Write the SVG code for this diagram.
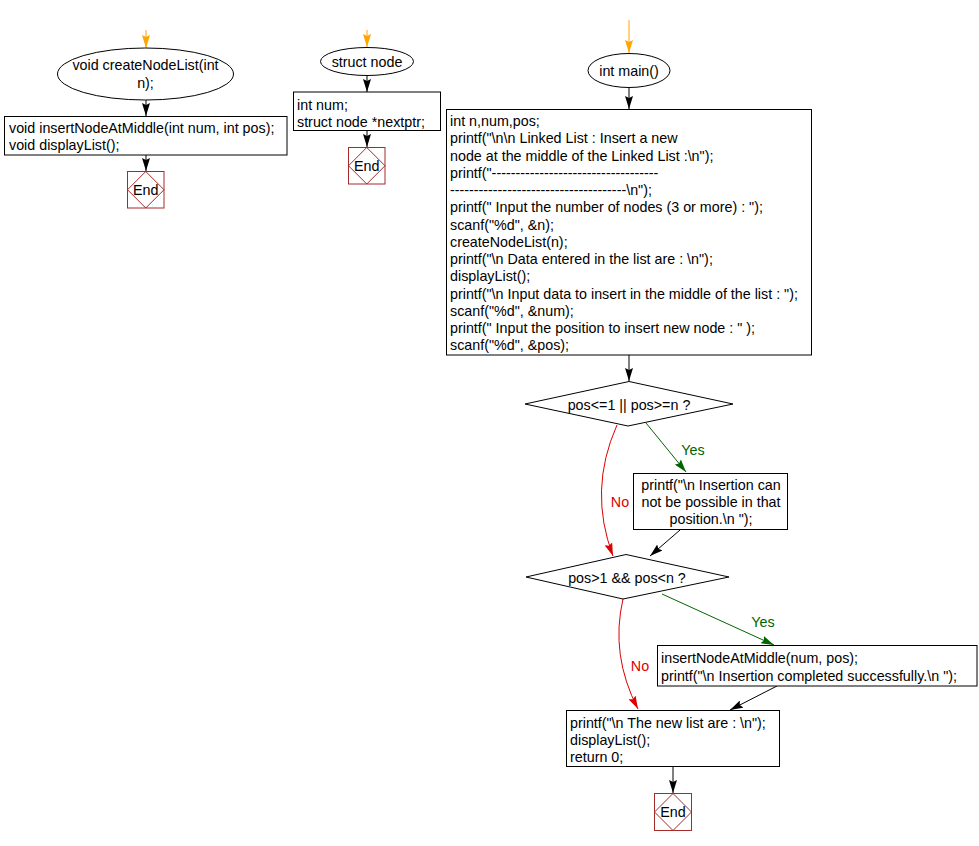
<svg xmlns="http://www.w3.org/2000/svg" width="979" height="846" viewBox="0 0 979 846">
<style>
text{font-family:"Liberation Sans",Arial,sans-serif;font-size:14.3px;fill:#000}
.box{fill:#fff;stroke:#000;stroke-width:1}
.end{fill:#fff;stroke:#a52a2a;stroke-width:1}
.endd{fill:none;stroke:#a52a2a;stroke-width:1}
.c{text-anchor:middle}
.blk{stroke:#000;fill:none;stroke-width:1}
.org{stroke:#ffa500;fill:none;stroke-width:1}
.grn{stroke:#006400;fill:none;stroke-width:1}
.red{stroke:#dd0000;fill:none;stroke-width:1}
.gt{fill:#006400}
.rt{fill:#dd0000}
</style>
<defs>
<marker id="ab" viewBox="0 0 13 8" refX="13" refY="4" markerWidth="13" markerHeight="8" markerUnits="userSpaceOnUse" orient="auto"><path d="M0,0 L13,4 L0,8 L2,4 z" fill="#000"/></marker>
<marker id="ao" viewBox="0 0 13 8" refX="13" refY="4" markerWidth="13" markerHeight="8" markerUnits="userSpaceOnUse" orient="auto"><path d="M0,0 L13,4 L0,8 L2,4 z" fill="#ffa500"/></marker>
<marker id="ag" viewBox="0 0 13 8" refX="13" refY="4" markerWidth="13" markerHeight="8" markerUnits="userSpaceOnUse" orient="auto"><path d="M0,0 L13,4 L0,8 L2,4 z" fill="#006400"/></marker>
<marker id="ar" viewBox="0 0 13 8" refX="13" refY="4" markerWidth="13" markerHeight="8" markerUnits="userSpaceOnUse" orient="auto"><path d="M0,0 L13,4 L0,8 L2,4 z" fill="#dd0000"/></marker>
</defs>

<g id="connectors">
<line class="org" x1="146" y1="30" x2="146" y2="48" marker-end="url(#ao)"/>
<line class="blk" x1="146" y1="100" x2="146" y2="116" marker-end="url(#ab)"/>
<line class="blk" x1="146" y1="155" x2="146" y2="171" marker-end="url(#ab)"/>
<line class="org" x1="367" y1="30" x2="367" y2="47" marker-end="url(#ao)"/>
<line class="blk" x1="367" y1="76" x2="367" y2="92" marker-end="url(#ab)"/>
<line class="blk" x1="367" y1="131" x2="367" y2="147" marker-end="url(#ab)"/>
<line class="org" x1="629" y1="20" x2="629" y2="53" marker-end="url(#ao)"/>
<line class="blk" x1="629" y1="88" x2="629" y2="109" marker-end="url(#ab)"/>
<line class="blk" x1="629" y1="355" x2="629" y2="381" marker-end="url(#ab)"/>
<line class="grn" x1="646" y1="423" x2="686" y2="472" marker-end="url(#ag)"/>
<path class="red" d="M617,425 Q588,490 613,556" marker-end="url(#ar)"/>
<line class="blk" x1="680" y1="530" x2="650" y2="556" marker-end="url(#ab)"/>
<line class="grn" x1="662" y1="594" x2="774" y2="645" marker-end="url(#ag)"/>
<path class="red" d="M623,599 Q610,655 638,709" marker-end="url(#ar)"/>
<line class="blk" x1="777" y1="686" x2="730" y2="710" marker-end="url(#ab)"/>
<line class="blk" x1="673" y1="766" x2="673" y2="793" marker-end="url(#ab)"/>
<text class="gt" x="693" y="455" text-anchor="middle">Yes</text>
<text class="rt" x="620" y="507" text-anchor="middle">No</text>
<text class="gt" x="763" y="627" text-anchor="middle">Yes</text>
<text class="rt" x="640" y="671" text-anchor="middle">No</text>
</g>

<g id="createNodeList">
<ellipse class="box" cx="145.5" cy="74" rx="88" ry="26"/>
<text class="c" x="145.5" y="70">void createNodeList(int</text>
<text class="c" x="145.5" y="88">n);</text>
</g>
<g id="decl1">
<rect class="box" x="4.5" y="116.5" width="282.5" height="38.5"/>
<text x="9" y="132.5">void insertNodeAtMiddle(int num, int pos);</text>
<text x="9" y="150">void displayList();</text>
</g>
<g id="end1">
<rect class="end" x="127.5" y="171.5" width="36.5" height="36.5"/>
<path class="endd" d="M145.75,171.5 L164,189.75 L145.75,208 L127.5,189.75 Z"/>
<text class="c" x="145.75" y="195">End</text>
</g>

<g id="structNode">
<ellipse class="box" cx="367" cy="61.5" rx="46.5" ry="14"/>
<text class="c" x="367" y="66.5">struct node</text>
</g>
<g id="decl2">
<rect class="box" x="293.5" y="92" width="147" height="38.5"/>
<text x="297" y="109.5">int num;</text>
<text x="297" y="126.5">struct node *nextptr;</text>
</g>
<g id="end2">
<rect class="end" x="348.5" y="147.5" width="36.5" height="36.5"/>
<path class="endd" d="M366.75,147.5 L385,165.75 L366.75,184 L348.5,165.75 Z"/>
<text class="c" x="366.75" y="171">End</text>
</g>

<g id="main">
<ellipse class="box" cx="629" cy="70.5" rx="41" ry="17"/>
<text class="c" x="629" y="75.5">int main()</text>
</g>
<g id="mainBody">
<rect class="box" x="446.5" y="109.5" width="365" height="245.5"/>
<text x="450" y="126">int n,num,pos;</text>
<text x="450" y="143.25">printf("\n\n Linked List : Insert a new</text>
<text x="450" y="160.5">node at the middle of the Linked List :\n");</text>
<text x="450" y="177.75">printf("-----------------------------------</text>
<text x="450" y="195">-------------------------------------\n");</text>
<text x="450" y="212.25">printf(" Input the number of nodes (3 or more) : ");</text>
<text x="450" y="229.5">scanf("%d", &amp;n);</text>
<text x="450" y="246.75">createNodeList(n);</text>
<text x="450" y="264">printf("\n Data entered in the list are : \n");</text>
<text x="450" y="281.25">displayList();</text>
<text x="450" y="298.5">printf("\n Input data to insert in the middle of the list : ");</text>
<text x="450" y="315.75">scanf("%d", &amp;num);</text>
<text x="450" y="333">printf(" Input the position to insert new node : " );</text>
<text x="450" y="350.25">scanf("%d", &amp;pos);</text>
</g>
<g id="cond1">
<polygon class="box" points="629,381.5 733,404 628,426 525,404"/>
<text class="c" x="629" y="410">pos&lt;=1 || pos&gt;=n ?</text>
</g>
<g id="errBox">
<rect class="box" x="633.5" y="473.5" width="154" height="56"/>
<text class="c" x="711" y="490">printf("\n Insertion can</text>
<text class="c" x="711" y="507">not be possible in that</text>
<text class="c" x="711" y="524">position.\n ");</text>
</g>
<g id="cond2">
<polygon class="box" points="626,554.5 729,577 623,599 526,577"/>
<text class="c" x="627" y="583">pos&gt;1 &amp;&amp; pos&lt;n ?</text>
</g>
<g id="insertBox">
<rect class="box" x="657.5" y="645.5" width="319.5" height="40.5"/>
<text x="661" y="663">insertNodeAtMiddle(num, pos);</text>
<text x="661" y="680.5">printf("\n Insertion completed successfully.\n ");</text>
</g>
<g id="finalBox">
<rect class="box" x="566.5" y="710.5" width="213" height="56"/>
<text x="570" y="727.5">printf("\n The new list are : \n");</text>
<text x="570" y="744.5">displayList();</text>
<text x="570" y="761.5">return 0;</text>
</g>
<g id="end3">
<rect class="end" x="654.5" y="793.5" width="37" height="37"/>
<path class="endd" d="M673,793.5 L691.5,812 L673,830.5 L654.5,812 Z"/>
<text class="c" x="673" y="817">End</text>
</g>
</svg>
